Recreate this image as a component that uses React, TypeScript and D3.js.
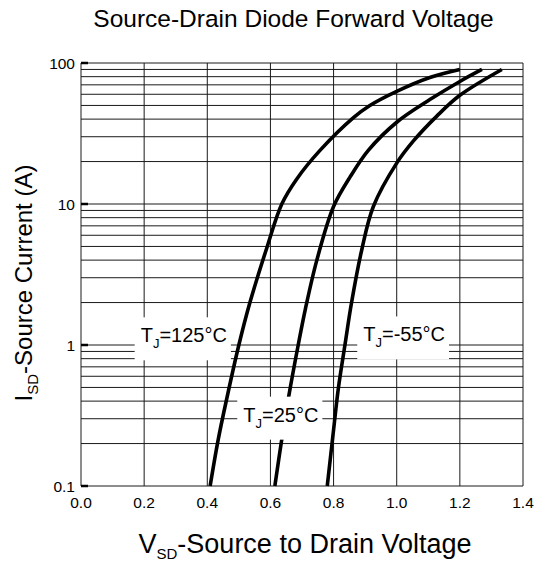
import React, { useEffect, useRef } from 'react';
import * as d3 from 'd3';

// Diode forward characteristic (V in volts, I in amps)
const vf125 = [0.409, 0.434, 0.461, 0.5, 0.535, 0.59, 0.636, 0.683, 0.757, 0.863, 0.915, 1.0, 1.105, 1.2];
const if125 = [0.1, 0.21, 0.41, 1.0, 2.0, 5.0, 10, 15, 24, 41, 50, 63, 79, 90];

const vf25 = [0.614, 0.638, 0.657, 0.688, 0.71, 0.747, 0.8, 0.852, 0.91, 1.0, 1.105, 1.2, 1.27];
const if25 = [0.1, 0.23, 0.42, 1.0, 1.77, 4.0, 9.6, 15.5, 24, 38, 55, 74, 90];

const vfm55 = [0.78, 0.8, 0.815, 0.836, 0.857, 0.889, 0.926, 1.0, 1.053, 1.127, 1.2, 1.333];
const ifm55 = [0.1, 0.25, 0.49, 1.0, 2.0, 4.7, 9.6, 19.5, 28, 42, 59, 90];

const xTicks = [0, 0.2, 0.4, 0.6, 0.8, 1.0, 1.2, 1.4];
const yMajor = [0.1, 1, 10, 100];
const yTickLabels = ['0.1', '1', '10', '100'];

// curve labels: text after the subscript, and where the text starts (V, I at baseline)
const labelTexts = ['=125°C', '=25°C', '=-55°C'];
const labelV = [0.189, 0.514, 0.894];
const labelI = [1.045, 0.286, 1.06];

const FONT = 'Liberation Sans, Arial, Helvetica, sans-serif';

export default function App() {
  const svgRef = useRef<SVGSVGElement>(null);

  useEffect(() => {
    if (!svgRef.current) return;
    const svg = d3.select(svgRef.current);
    svg.selectAll('*').remove();

    const left = 81, right = 523, top = 63, bottom = 486;

    const x = d3.scaleLinear().domain([0, 1.4]).range([left, right]);
    const y = d3.scaleLog().domain([0.1, 100]).range([bottom, top]);

    const g = svg.append('g');

    // minor + major horizontal grid (1..9 per decade)
    const hLines: number[] = [];
    [0.1, 1, 10].forEach(d => {
      for (let k = 1; k <= 9; k++) hLines.push(d * k);
    });
    hLines.push(100);

    g.selectAll('.hgrid')
      .data(hLines)
      .enter()
      .append('line')
      .attr('x1', left)
      .attr('x2', right)
      .attr('y1', d => y(d))
      .attr('y2', d => y(d))
      .attr('stroke', '#1a1a1a')
      .attr('stroke-width', 1);

    g.selectAll('.vgrid')
      .data(xTicks)
      .enter()
      .append('line')
      .attr('x1', d => x(d))
      .attr('x2', d => x(d))
      .attr('y1', top)
      .attr('y2', bottom)
      .attr('stroke', '#1a1a1a')
      .attr('stroke-width', 1);

    // short heavier tick marks on the left at each decade
    g.selectAll('.ytick')
      .data(yMajor)
      .enter()
      .append('line')
      .attr('x1', left)
      .attr('x2', left + 7)
      .attr('y1', d => y(d))
      .attr('y2', d => y(d))
      .attr('stroke', '#000')
      .attr('stroke-width', 2.5);

    // curves
    const line = d3.line<[number, number]>()
      .x(d => x(d[0]))
      .y(d => y(d[1]))
      .curve(d3.curveCatmullRom.alpha(0.5));

    const series: [number, number][][] = [
      vf125.map((v, i) => [v, if125[i]]),
      vf25.map((v, i) => [v, if25[i]]),
      vfm55.map((v, i) => [v, ifm55[i]]),
    ];

    g.selectAll('.curve')
      .data(series)
      .enter()
      .append('path')
      .attr('d', d => line(d) || '')
      .attr('fill', 'none')
      .attr('stroke', '#000')
      .attr('stroke-width', 3.6)
      .attr('stroke-linecap', 'butt');

    // curve labels in white boxes
    labelTexts.forEach((txt, i) => {
      const lx = x(labelV[i]);
      const ly = y(labelI[i]);
      const lg = svg.append('g');
      const rect = lg.append('rect').attr('fill', '#fff');
      const t = lg.append('text')
        .attr('x', lx)
        .attr('y', ly)
        .attr('font-family', FONT)
        .attr('font-size', 20)
        .attr('fill', '#000');
      t.append('tspan').text('T');
      t.append('tspan').attr('font-size', 13).attr('dy', 6).text('J');
      t.append('tspan').attr('dy', -6).text(txt);
      const bb = (t.node() as SVGTextElement).getBBox();
      rect
        .attr('x', lx - 6)
        .attr('y', ly - 25)
        .attr('width', bb.width + 10)
        .attr('height', 43);
    });

    // tick labels
    svg.selectAll('.xlab')
      .data(xTicks)
      .enter()
      .append('text')
      .attr('x', d => x(d))
      .attr('y', 508)
      .attr('text-anchor', 'middle')
      .attr('font-family', FONT)
      .attr('font-size', 15.5)
      .text(d => d.toFixed(1));

    svg.selectAll('.ylab')
      .data(yMajor)
      .enter()
      .append('text')
      .attr('x', left - 6)
      .attr('y', d => y(d) + 5.5)
      .attr('text-anchor', 'end')
      .attr('font-family', FONT)
      .attr('font-size', 15.5)
      .text((d, i) => yTickLabels[i]);

    // title
    svg.append('text')
      .attr('x', 293.5)
      .attr('y', 27)
      .attr('text-anchor', 'middle')
      .attr('font-family', FONT)
      .attr('font-size', 24.5)
      .text('Source-Drain Diode Forward Voltage');

    // x axis title
    const xt = svg.append('text')
      .attr('x', 305)
      .attr('y', 553)
      .attr('text-anchor', 'middle')
      .attr('font-family', FONT)
      .attr('font-size', 27);
    xt.append('tspan').text('V');
    xt.append('tspan').attr('font-size', 15).attr('dy', 6).text('SD');
    xt.append('tspan').attr('dy', -6).text('-Source to Drain Voltage');

    // y axis title
    const yt = svg.append('text')
      .attr('transform', 'translate(32,283) rotate(-90)')
      .attr('text-anchor', 'middle')
      .attr('font-family', FONT)
      .attr('font-size', 24);
    yt.append('tspan').text('I');
    yt.append('tspan').attr('font-size', 15).attr('dy', 6).text('SD');
    yt.append('tspan').attr('dy', -6).text('-Source Current (A)');
  }, []);

  return (
    <svg
      ref={svgRef}
      width={536}
      height={575}
      style={{ position: 'absolute', left: 0, top: 0, background: '#fff' }}
    />
  );
}
